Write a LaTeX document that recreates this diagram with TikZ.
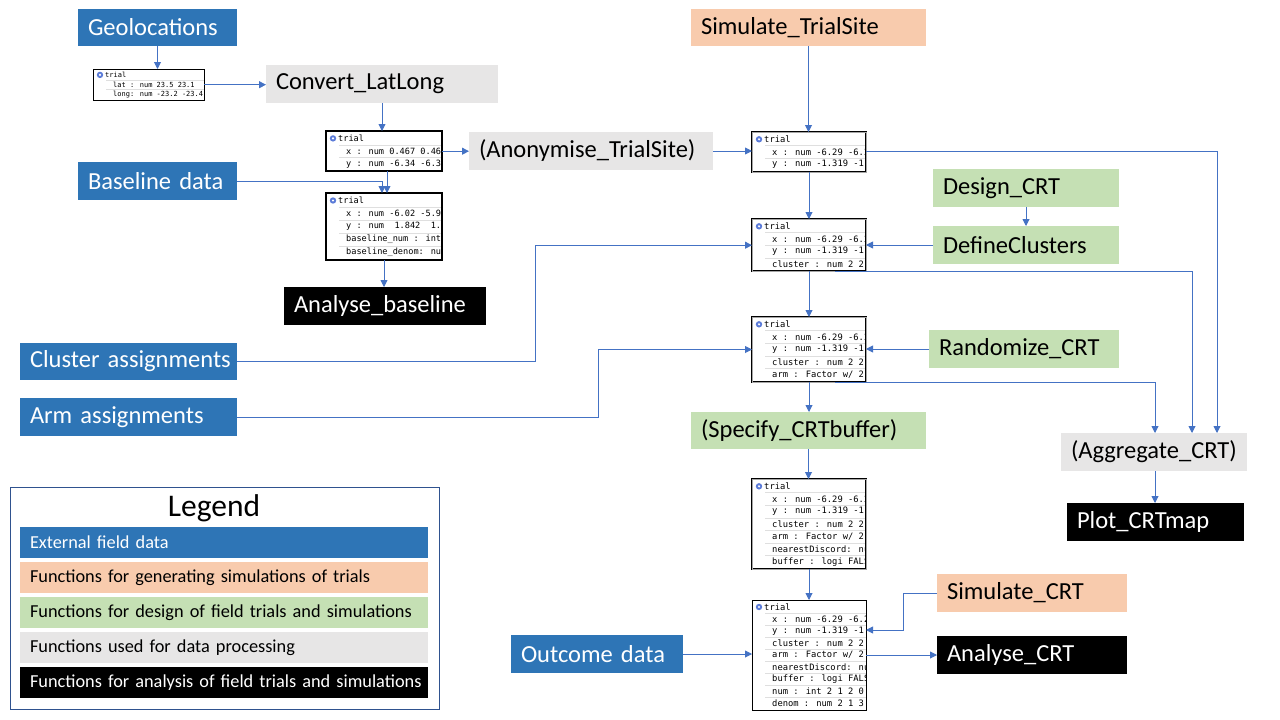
\documentclass[tikz,border=0pt]{standalone}
\usepackage{fontspec}
\setmainfont{Carlito}
\newfontfamily\dfmono{DejaVu Sans Mono}
\usetikzlibrary{arrows.meta,calc}
\definecolor{extblue}{HTML}{2E75B6}
\definecolor{simorange}{HTML}{F8CBAD}
\definecolor{desgreen}{HTML}{C5E0B4}
\definecolor{procgray}{HTML}{E7E6E6}
\definecolor{arrowblue}{HTML}{4472C4}
\definecolor{legframe}{HTML}{2F528F}
\definecolor{iconblue}{HTML}{5B7BD8}
\tikzset{
  lbl/.style={anchor=north west, inner xsep=10pt, inner ysep=0pt, outer sep=0pt, align=left, font=\fontsize{24.5}{28}\selectfont},
  ext/.style={lbl, fill=extblue, text=white},
  sim/.style={lbl, fill=simorange, text=black},
  des/.style={lbl, fill=desgreen, text=black},
  proc/.style={lbl, fill=procgray, text=black},
  ana/.style={lbl, fill=black, text=white},
  conn/.style={draw=arrowblue, line width=0.9pt},
  arr/.style={conn, -{Triangle[length=7pt,width=7pt]}},
  legbar/.style={anchor=north west, inner xsep=0pt, inner ysep=0pt, outer sep=0pt, text width=408pt, minimum height=31pt, align=left, font=\fontsize{18.3}{22}\selectfont},
  thinframe/.style={draw=black, line width=1pt},
  thickframe/.style={draw=black, line width=2pt},
  dblframe/.style={draw=black, line width=0.8pt, double=gray!70, double distance=0.5pt},
  sepline/.style={draw=gray!25, line width=0.6pt},
}
% #1 name, #2 x, #3 y, #4 width, #5 rows (incl. header), #6 row height, #7 font size, #8 frame style, #9 data rows
\newcommand\dfbox[9]{%
  \pgfmathsetmacro\dfh{#5*#6+2}%
  \node[fill=white, anchor=north west, minimum width=#4pt, minimum height=\dfh pt, inner sep=0pt, outer sep=0pt] (#1) at (#2,#3) {};
  \begin{scope}
    \clip (#1.north west) rectangle (#1.south east);
    \fill[iconblue] ($(#1.north west)+(7,{1+0.5*#6})$) circle (3.2pt);
    \fill[white] ($(#1.north west)+(7,{1+0.5*#6})$) circle (1.2pt);
    \node[anchor=west, inner sep=0pt, font={\dfmono#7\selectfont}] (#1-h) at ($(#1.north west)+(12,{1+0.5*#6})$) {trial};
    \foreach \r [count=\i] in {#9} {
      \draw[sepline] ($(#1.north west)+(13,{1+\i*#6})$) -- ++(#4,0);
      \node[anchor=west, inner sep=0pt, font={\dfmono#7\selectfont}] (#1-\i) at ($(#1.north west)+(20,{1+(\i+0.5)*#6})$) {\r};
    }
  \end{scope}
  \draw[#8] (#1.north west) rectangle (#1.south east);
}
\begin{document}
\begin{tikzpicture}[x=1pt,y=-1pt]
\useasboundingbox[fill=white] (0,0) rectangle (1280,720);

% ---- labelled boxes ----
\node[ext, text width=139pt, minimum height=37pt] (geo) at (78,9) {\mbox{Geolocations}};
\node[proc, text width=212pt, minimum height=38pt] (conv) at (266,65) {\mbox{Convert\_LatLong}};
\node[proc, text width=224pt, minimum height=38pt] (anon) at (469,132) {\mbox{(Anonymise\_TrialSite)}};
\node[ext, text width=139pt, minimum height=38pt] (base) at (78,162) {\mbox{Baseline data}};
\node[ana, text width=182pt, minimum height=38pt] (anab) at (284,287) {\mbox{Analyse\_baseline}};
\node[ext, text width=197pt, minimum height=37pt] (clus) at (20,343) {\mbox{Cluster assignments}};
\node[ext, text width=197pt, minimum height=38pt] (armas) at (20,398) {\mbox{Arm assignments}};
\node[sim, text width=215pt, minimum height=37pt] (simts) at (691,9) {\mbox{Simulate\_TrialSite}};
\node[des, text width=166pt, minimum height=38pt] (design) at (933,169) {\mbox{Design\_CRT}};
\node[des, text width=166pt, minimum height=38pt] (defcl) at (933,226) {\mbox{DefineClusters}};
\node[des, text width=170pt, minimum height=38pt] (rand) at (929,330) {\mbox{Randomize\_CRT}};
\node[des, text width=215pt, minimum height=37pt] (spec) at (691,412) {\mbox{(Specify\_CRTbuffer)}};
\node[proc, text width=166pt, minimum height=38pt] (agg) at (1061,433) {\mbox{(Aggregate\_CRT)}};
\node[ana, text width=157pt, minimum height=38pt] (plot) at (1067,503) {\mbox{Plot\_CRTmap}};
\node[sim, text width=170pt, minimum height=38pt] (simcrt) at (937,574) {\mbox{Simulate\_CRT}};
\node[ext, text width=152pt, minimum height=38pt] (outc) at (511,635) {\mbox{Outcome data}};
\node[ana, text width=170pt, minimum height=38pt] (anacrt) at (937,636) {\mbox{Analyse\_CRT}};

% ---- data frames ----
\dfbox{df1}{93}{69}{111}{3}{9.8}{\fontsize{7}{8}}{thinframe}{lat : num 23.5 23.1,long: num -23.2 -23.4}
\dfbox{df2}{326}{131}{116}{3}{12.8}{\fontsize{8.6}{10}}{thickframe}{x : num 0.467 0.469,y : num -6.34 -6.33}
\dfbox{df3}{326}{193}{116}{5}{13}{\fontsize{8.6}{10}}{thickframe}{x : num -6.02 -5.9,y : num~ 1.842~ 1.8,baseline\_num : int,baseline\_denom: num}
\dfbox{df4}{752}{132}{114}{3}{12.6}{\fontsize{8.8}{10}}{dblframe}{x : num -6.29 -6.29,y : num -1.319 -1.3}
\dfbox{df5}{752}{219}{114}{4}{12.6}{\fontsize{8.8}{10}}{dblframe}{x : num -6.29 -6.29,y : num -1.319 -1.3,cluster : num 2 2 2}
\dfbox{df6}{752}{317}{114}{5}{12.6}{\fontsize{8.8}{10}}{dblframe}{x : num -6.29 -6.29,y : num -1.319 -1.3,cluster : num 2 2 2,arm : Factor w/ 2}
\dfbox{df7}{752}{479}{114}{7}{12.6}{\fontsize{8.8}{10}}{dblframe}{x : num -6.29 -6.29,y : num -1.319 -1.3,cluster : num 2 2 2,arm : Factor w/ 2,nearestDiscord: num,buffer : logi FALSE}
\dfbox{df8}{752}{600}{114}{9}{12}{\fontsize{8.8}{10}}{thinframe}{x : num -6.29 -6.29,y : num -1.319 -1.3,cluster : num 2 2 2,arm : Factor w/ 2,nearestDiscord: num,buffer : logi FALSE,num : int 2 1 2 0,denom : num 2 1 3}

% ---- connectors ----
\draw[arr] (geo.south) -- (geo.south |- df1.north);
\draw[arr] (df1.east) -- (df1.east -| conv.west);
\draw[arr] (conv.south) -- (conv.south |- df2.north);
\draw[arr] (df2.east) -- (df2.east -| anon.west);
\draw[arr] ($(df2.south)+(3,0)$) -- ($(df3.north)+(3,0)$);
\draw[arr] (base.east) -| ($(df3.north)+(-2,0)$);
\draw[arr] (df3.south) -- (df3.south |- anab.north);
\draw[arr] (clus.east) -- ++(298,0) |- (df5.west);
\draw[arr] (armas.east) -- ++(361,0) |- (df6.west);
\draw[arr] (simts.south) -- (simts.south |- df4.north);
\draw[arr] (anon.east) -- (anon.east -| df4.west);
\draw[arr] (df4.east) -| ($(agg.north east)+(-30,0)$);
\draw[arr] (df4.south) -- (df5.north);
\draw[arr] (design.south) -- (defcl.north);
\draw[arr] (defcl.west) -- (defcl.west -| df5.east);
\draw[arr] ($(df5.south west)+(83,0)$) -| ($(agg.north west)+(131,0)$);
\draw[arr] (df5.south) -- (df6.north);
\draw[arr] (rand.west) -- (rand.west -| df6.east);
\draw[arr] ($(df6.south west)+(83,0)$) -| ($(agg.north west)+(94,0)$);
\draw[arr] (df6.south) -- (df6.south |- spec.north);
\draw[arr] (spec.south) -- (spec.south |- df7.north);
\draw[arr] (df7.south) -- (df8.north);
\coordinate (aggout) at ($(agg.south west)+(94,0)$);
\draw[arr] (aggout) -- (aggout |- plot.north);
\draw[arr] (simcrt.west) -- ++(-34,0) |- ($(df8.north east)+(0,30)$);
\draw[arr] (outc.east) -- (outc.east -| df8.west);
\draw[arr] (df8.east |- anacrt.west) -- (anacrt.west);

% ---- legend ----
\node[draw=legframe, line width=1pt, anchor=north west, minimum width=429pt, minimum height=222pt, inner sep=0pt, outer sep=0pt] (legend) at (10,487) {};
\node[font=\fontsize{31.5}{36}\selectfont, inner sep=0pt] (legtitle) at (214,508) {Legend};
\node[legbar, fill=extblue, text=white] (leg1) at (20,527) {\hspace*{10pt}External field data};
\node[legbar, fill=simorange] (leg2) at (20,562) {\hspace*{10pt}Functions for generating simulations of trials};
\node[legbar, fill=desgreen] (leg3) at (20,597) {\hspace*{10pt}Functions for design of field trials and simulations};
\node[legbar, fill=procgray] (leg4) at (20,632) {\hspace*{10pt}Functions used for data processing};
\node[legbar, fill=black, text=white] (leg5) at (20,667) {\hspace*{10pt}Functions for analysis of field trials and simulations};
\end{tikzpicture}
\end{document}
